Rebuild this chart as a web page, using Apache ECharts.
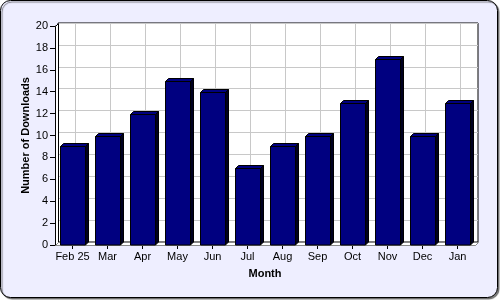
<!DOCTYPE html>
<html><head><meta charset="utf-8">
<script src="https://cdn.jsdelivr.net/npm/echarts@6/dist/echarts.min.js"></script>
<style>html,body{margin:0;padding:0;background:#fff}#c{width:500px;height:300px}</style>
</head><body><div id="c"></div>
<script>
const months = ['Feb 25','Mar','Apr','May','Jun','Jul','Aug','Sep','Oct','Nov','Dec','Jan'];
const downloads = [9,10,12,15,14,7,9,10,13,17,10,13];
const yTicks = {min:0, max:20, interval:2};

const chart = echarts.init(document.getElementById('c'), null, {renderer:'canvas'});
const font = {fontFamily:'Liberation Sans, Arial, sans-serif', fontSize:11, color:'#000'};
const D = 3;
// front plot box
const FL = 55, FR = 475, FT = 26, FB = 245;
chart.setOption({
  animation:false,
  backgroundColor:'transparent',
  graphic:[
    {type:'rect', z:-10, silent:true, shape:{x:0.5,y:0.5,width:497,height:297,r:10},
      style:{fill:'#EEEEFF', stroke:'#000', lineWidth:1, shadowColor:'rgba(0,0,0,0.5)', shadowOffsetX:1.5, shadowOffsetY:1.5, shadowBlur:1}},
    {type:'polygon', z:1, silent:true, shape:{points:[[FL+0.5,FT+0.5],[FL+D+0.5,FT-D+0.5],[FL+D+0.5,FB-D+0.5],[FL+0.5,FB+0.5]]},
      style:{fill:'#fff', stroke:'#000', lineWidth:1}},
    {type:'polygon', z:1, silent:true, shape:{points:[[FL+0.5,FB+0.5],[FR+0.5,FB+0.5],[FR+D+0.5,FB-D+0.5],[FL+D+0.5,FB-D+0.5]]},
      style:{fill:'#fff', stroke:'#888', lineWidth:1}}
  ],
  grid:[
    {left:FL+D, right:500-FR-D, top:FT-D, bottom:300-FB+D, show:true, backgroundColor:'#fff', borderColor:'#000', borderWidth:1, z:0},
    {left:FL, right:500-FR, top:FT, bottom:300-FB, show:false}
  ],
  xAxis:[
    {gridIndex:0, type:'category', data:months, boundaryGap:true, axisLine:{show:false}, axisTick:{show:false}, axisLabel:{show:false},
      splitLine:{show:true, alignWithLabel:true, interval:0, lineStyle:{color:'#c8c8c8', width:1}}},
    {gridIndex:1, type:'category', data:months, boundaryGap:true,
      axisLine:{show:true, lineStyle:{color:'#000'}}, axisTick:{show:true, alignWithLabel:true, interval:0, length:4, lineStyle:{color:'#000'}},
      axisLabel:Object.assign({margin:6, interval:0}, font), splitLine:{show:false},
      name:'Month', nameLocation:'middle', nameGap:23, nameMoveOverlap:false, nameTextStyle:Object.assign({}, font, {fontWeight:'bold'})}
  ],
  yAxis:[
    {gridIndex:0, type:'value', min:yTicks.min, max:yTicks.max, interval:yTicks.interval, axisLine:{show:false}, axisTick:{show:false}, axisLabel:{show:false},
      splitLine:{show:true, lineStyle:{color:'#c8c8c8', width:1}}},
    {gridIndex:1, type:'value', min:yTicks.min, max:yTicks.max, interval:yTicks.interval,
      axisLine:{show:true, lineStyle:{color:'#000'}}, axisTick:{show:true, length:5, lineStyle:{color:'#000'}},
      axisLabel:Object.assign({margin:7}, font), splitLine:{show:false},
      name:'Number of Downloads', nameLocation:'middle', nameGap:24, nameMoveOverlap:false, nameTextStyle:Object.assign({}, font, {fontWeight:'bold'})}
  ],
  series:[{
    type:'custom', xAxisIndex:1, yAxisIndex:1, z:5,
    data: months.map((m,i)=>[i, downloads[i]]),
    renderItem(params, api){
      const top = api.coord([api.value(0), api.value(1)]);
      const base = api.coord([api.value(0), 0]);
      const bw = api.size([1,0])[0]*0.74;
      const x0 = Math.round(top[0]-bw/2)+0.5, x1 = Math.round(top[0]+bw/2)+0.5;
      const yt = Math.round(top[1])+0.5, yb = Math.round(base[1]);
      const st = {stroke:'#000', lineWidth:1};
      return {type:'group', children:[
        {type:'polygon', shape:{points:[[x1,yt],[x1+D,yt-D],[x1+D,yb-D],[x1,yb]]}, style:Object.assign({fill:'#000020'}, st)},
        {type:'polygon', shape:{points:[[x0,yt],[x0+D,yt-D],[x1+D,yt-D],[x1,yt]]}, style:Object.assign({fill:'#000080'}, st)},
        {type:'rect', shape:{x:x0, y:yt, width:x1-x0, height:yb-yt}, style:Object.assign({fill:'#000080'}, st)}
      ]};
    }
  }]
});
</script></body></html>
